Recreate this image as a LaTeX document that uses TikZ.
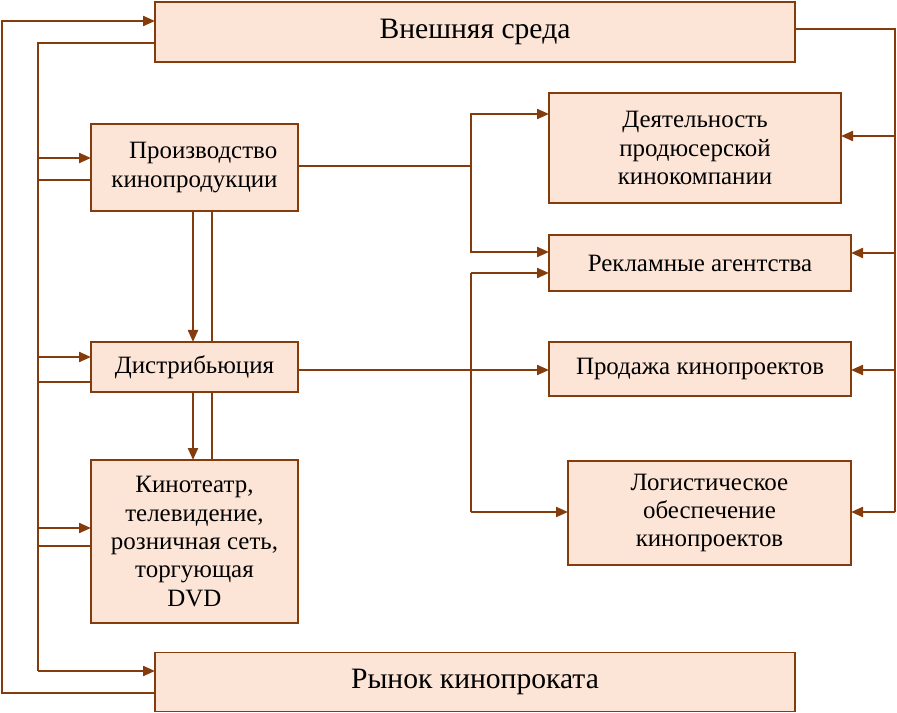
\documentclass[tikz,border=0pt]{standalone}
\usepackage{fontspec}
\setmainfont{Liberation Serif}
\usetikzlibrary{arrows.meta,calc}
\definecolor{brd}{RGB}{132,60,12}
\definecolor{fillc}{RGB}{252,228,214}
\begin{document}
\begin{tikzpicture}[x=0.75pt,y=-0.75pt,
  box/.style={draw=brd,fill=fillc,line width=1.2pt,inner sep=0pt,outer sep=0pt,align=center,font=\fontsize{18.7}{21.3}\selectfont},
  bigbox/.style={box,font=\fontsize{22.2}{26}\selectfont},
  ln/.style={draw=brd,line width=1.2pt},
  arr/.style={draw=brd,line width=1.6pt,-{Triangle[length=9pt,width=7.5pt]}}]
\useasboundingbox (0,0) rectangle (897,713);
% boxes
\node[bigbox,minimum width=480pt,minimum height=45pt] (env) at (475,32) {Внешняя среда};
\node[box,minimum width=155.25pt,minimum height=65.25pt] (prod) at (194.5,167.5) {\hspace*{13pt}Производство\\кинопродукции};
\node[box,minimum width=155.25pt,minimum height=37.5pt] (dist) at (194.5,367) {Дистрибьюция};
\node[box,minimum width=155.25pt,minimum height=122.25pt] (kino) at (194.5,541.5) {Кинотеатр,\\телевидение,\\розничная сеть,\\торгующая\\DVD};
\node[bigbox,minimum width=480pt,minimum height=44.25pt] (mkt) at (475,682) {Рынок кинопроката};
\node[box,minimum width=219pt,minimum height=82.5pt] (deyat) at (695,148) {Деятельность\\продюсерской\\кинокомпании};
\node[box,minimum width=226.5pt,minimum height=42pt] (rekl) at (700,263) {Рекламные агентства};
\node[box,minimum width=226.5pt,minimum height=40.5pt] (prodz) at (700,369) {Продажа кинопроектов};
\node[box,minimum width=212.25pt,minimum height=78pt] (logi) at (709.5,513) {Логистическое\\обеспечение\\кинопроектов};
% outer loop
\coordinate (c1) at (2,693);
\coordinate (c2) at (2,21);
\draw[arr] (c1 -| mkt.west) -- (c1) -- (c2) -- (c2 -| env.west);
% inner bus
\coordinate (i1) at (38,43);
\coordinate (i2) at (38,671);
\draw[ln] (i1 -| env.west) -- (i1) -- (i2);
\draw[arr] (i2) -- (i2 -| mkt.west);
\coordinate (b1) at (38,158);
\coordinate (b2) at (38,180);
\coordinate (b3) at (38,357);
\coordinate (b4) at (38,382);
\coordinate (b5) at (38,528);
\coordinate (b6) at (38,546);
\draw[arr] (b1) -- (b1 -| prod.west);
\draw[ln] (b2 -| prod.west) -- (b2);
\draw[arr] (b3) -- (b3 -| dist.west);
\draw[ln] (b4 -| dist.west) -- (b4);
\draw[arr] (b5) -- (b5 -| kino.west);
\draw[ln] (b6 -| kino.west) -- (b6);
% vertical links
\coordinate (va) at (193,0);
\coordinate (vb) at (212,0);
\draw[arr] (va |- prod.south) -- (va |- dist.north);
\draw[ln] (vb |- prod.south) -- (vb |- dist.north);
\draw[arr] (va |- dist.south) -- (va |- kino.north);
\draw[ln] (vb |- dist.south) -- (vb |- kino.north);
% production to right
\coordinate (j) at (471,166);
\coordinate (j1) at (471,114);
\coordinate (j2) at (471,252);
\draw[ln] (j -| prod.east) -- (j);
\draw[arr] (j) -- (j1) -- (j1 -| deyat.west);
\draw[arr] (j) -- (j2) -- (j2 -| rekl.west);
% distribution to right
\coordinate (k) at (471,370);
\coordinate (k1) at (471,273);
\coordinate (k2) at (471,512);
\draw[arr] (k -| dist.east) -- (k -| prodz.west);
\draw[ln] (k1) -- (k2);
\draw[arr] (k1) -- (k1 -| rekl.west);
\draw[arr] (k2) -- (k2 -| logi.west);
% right bus
\coordinate (r0) at (895,29);
\coordinate (r1) at (895,136);
\coordinate (r2) at (895,253);
\coordinate (r3) at (895,370);
\coordinate (r4) at (895,512);
\draw[ln] (r0 -| env.east) -- (r0) -- (r4);
\draw[arr] (r1) -- (r1 -| deyat.east);
\draw[arr] (r2) -- (r2 -| rekl.east);
\draw[arr] (r3) -- (r3 -| prodz.east);
\draw[arr] (r4) -- (r4 -| logi.east);
\end{tikzpicture}
\end{document}
